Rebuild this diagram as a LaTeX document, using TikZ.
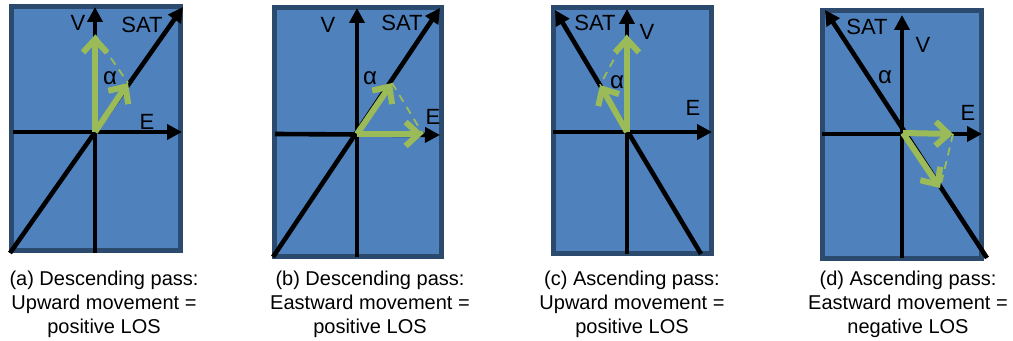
\documentclass[tikz,border=0pt]{standalone}
\usepackage{fontspec}
\setmainfont{Liberation Sans}
\usetikzlibrary{arrows.meta}
\definecolor{panelblue}{HTML}{4F81BD}
\definecolor{paneledge}{HTML}{2C4A6E}
\definecolor{losgreen}{HTML}{9BBB59}
\begin{document}
\begin{tikzpicture}[x=0.5pt,y=-0.5pt,
    panel/.style={draw=paneledge,line width=2.5pt,fill=panelblue},
    axis/.style={line width=2.3pt,-{Triangle[length=7.5pt,width=7.5pt]}},
    los/.style={losgreen,line width=3pt,-{Straight Barb[length=6.5pt,width=12pt]}},
    proj/.style={losgreen,line width=0.9pt,dash pattern=on 4pt off 3pt},
    lbl/.style={font=\fontsize{11}{13}\selectfont,inner sep=0pt},
    caption/.style={font=\fontsize{10}{11.8}\selectfont,align=center,anchor=north,inner sep=0pt}]
    \useasboundingbox (0,0) rectangle (1013,341);
    % (a) Descending pass, upward movement
    \draw[panel] (11.5,6.5) rectangle (180.5,250.5);
    \coordinate (Oa) at (95,132);
    \coordinate (Vbota) at (95,253);   \coordinate (Vtopa) at (95,7);
    \coordinate (Elefta) at (13,132);  \coordinate (Erighta) at (182,132);
    \coordinate (Sbota) at (10,253);   \coordinate (Stopa) at (183,7);
    \draw[axis] (Vbota) -- (Vtopa);
    \draw[axis] (Elefta) -- (Erighta);
    \draw[axis] (Sbota) -- (Stopa);
    \coordinate (upa) at (95,35);
    \coordinate (losa) at (128,83);
    \draw[proj] (upa) -- (losa);
    \draw[los] (Oa) -- (upa);
    \draw[los] (Oa) -- (losa);
    \node[lbl] (Va) at (78,23) {V};
    \node[lbl] (SATa) at (142,25) {SAT};
    \node[lbl] (Ea) at (147,122) {E};
    \node[lbl,font=\fontsize{12}{14}\selectfont] (alphaa) at (110,78) {α};
    \node[caption] (capa) at (104,271) {(a) Descending pass:\\Upward movement =\\positive LOS};
    % (b) Descending pass, eastward movement
    \draw[panel] (274.5,7.5) rectangle (441.5,256.5);
    \coordinate (Ob) at (357,134);
    \coordinate (Vbotb) at (357,257);  \coordinate (Vtopb) at (357,8);
    \coordinate (Eleftb) at (275,134); \coordinate (Erightb) at (440,135);
    \coordinate (Sbotb) at (273,257);  \coordinate (Stopb) at (440,8);
    \draw[axis] (Vbotb) -- (Vtopb);
    \draw[axis] (Eleftb) -- (Erightb);
    \draw[axis] (Sbotb) -- (Stopb);
    \coordinate (eastb) at (423,134);
    \coordinate (losb) at (392,83);
    \draw[proj] (losb) -- (eastb);
    \draw[los] (Ob) -- (eastb);
    \draw[los] (Ob) -- (losb);
    \node[lbl] (Vb) at (328,25) {V};
    \node[lbl] (SATb) at (402,23) {SAT};
    \node[lbl] (Eb) at (433,117) {E};
    \node[lbl,font=\fontsize{12}{14}\selectfont] (alphab) at (370,78) {α};
    \node[caption] (capb) at (370,271) {(b) Descending pass:\\Eastward movement =\\positive LOS};
    % (c) Ascending pass, upward movement
    \draw[panel] (553.5,7.5) rectangle (711.5,253.5);
    \coordinate (Oc) at (627,132);
    \coordinate (Vbotc) at (627,254);  \coordinate (Vtopc) at (627,9);
    \coordinate (Eleftc) at (553,132); \coordinate (Erightc) at (712,132);
    \coordinate (Sbotc) at (701,254);  \coordinate (Stopc) at (555,10);
    \draw[axis] (Vbotc) -- (Vtopc);
    \draw[axis] (Eleftc) -- (Erightc);
    \draw[axis] (Sbotc) -- (Stopc);
    \coordinate (upc) at (627,35);
    \coordinate (losc) at (600,85);
    \draw[proj] (upc) -- (losc);
    \draw[los] (Oc) -- (upc);
    \draw[los] (Oc) -- (losc);
    \node[lbl] (SATc) at (595,23) {SAT};
    \node[lbl] (Vc) at (647,32) {V};
    \node[lbl] (Ec) at (693,108) {E};
    \node[lbl,font=\fontsize{12}{14}\selectfont] (alphac) at (617,82) {α};
    \node[caption] (capc) at (632,271) {(c) Ascending pass:\\Upward movement =\\positive LOS};
    % (d) Ascending pass, eastward movement
    \draw[panel] (822.5,10.5) rectangle (981.5,258.5);
    \coordinate (Od) at (903,133);
    \coordinate (Vbotd) at (902,258);  \coordinate (Vtopd) at (902,15);
    \coordinate (Eleftd) at (822,134); \coordinate (Erightd) at (982,134);
    \coordinate (Sbotd) at (987,258);  \coordinate (Stopd) at (825,10);
    \draw[axis] (Vbotd) -- (Vtopd);
    \draw[axis] (Eleftd) -- (Erightd);
    \draw[axis] (Sbotd) -- (Stopd);
    \coordinate (eastd) at (953,134);
    \coordinate (losd) at (940,188);
    \draw[proj] (eastd) -- (losd);
    \draw[los] (Od) -- (eastd);
    \draw[los] (Od) -- (losd);
    \node[lbl] (SATd) at (867,27) {SAT};
    \node[lbl] (Vd) at (923,45) {V};
    \node[lbl] (Ed) at (968,113) {E};
    \node[lbl,font=\fontsize{12}{14}\selectfont] (alphad) at (885,77) {α};
    \node[caption] (capd) at (908,271) {(d) Ascending pass:\\Eastward movement =\\negative LOS};
\end{tikzpicture}
\end{document}
